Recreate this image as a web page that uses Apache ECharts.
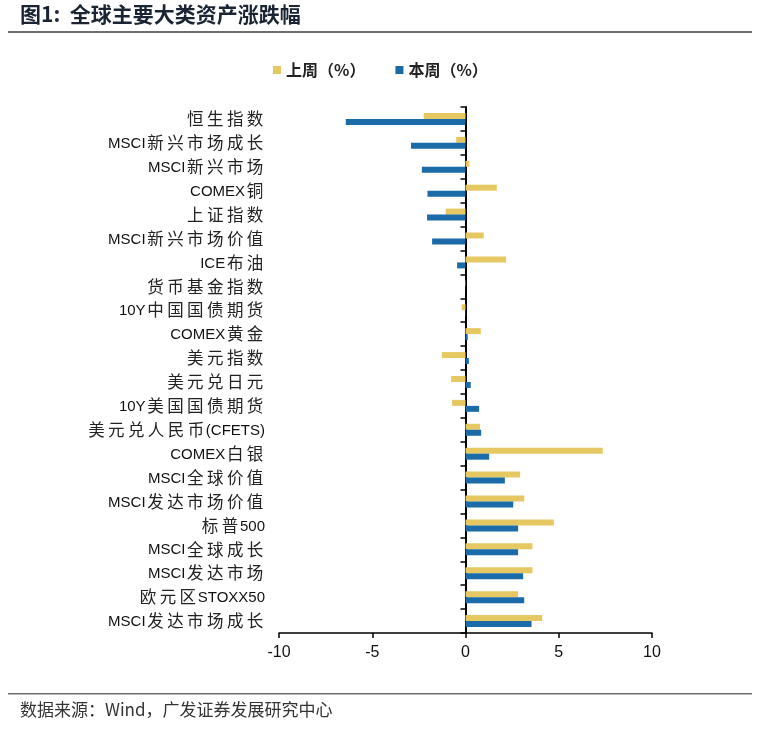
<!DOCTYPE html>
<html><head><meta charset="utf-8">
<script src="https://cdn.jsdelivr.net/npm/echarts@6/dist/echarts.min.js"></script>
<style>html,body{margin:0;padding:0;background:#fff;}#c{width:765px;height:730px;}</style>
</head><body><div id="c"></div>
<script>
const categories = ['恒生指数','MSCI新兴市场成长','MSCI新兴市场','COMEX铜','上证指数','MSCI新兴市场价值','ICE布油','货币基金指数','10Y中国国债期货','COMEX黄金','美元指数','美元兑日元','10Y美国国债期货','美元兑人民币(CFETS)','COMEX白银','MSCI全球价值','MSCI发达市场价值','标普500','MSCI全球成长','MSCI发达市场','欧元区STOXX50','MSCI发达市场成长'];
const lastWeek = [-2.24,-0.50,0.21,1.68,-1.06,0.98,2.17,0.02,-0.20,0.82,-1.27,-0.77,-0.72,0.78,7.36,2.93,3.15,4.74,3.59,3.59,2.82,4.11];
const thisWeek = [-6.42,-2.92,-2.34,-2.04,-2.06,-1.79,-0.45,0.01,0.02,0.12,0.18,0.28,0.73,0.84,1.27,2.11,2.56,2.82,2.82,3.09,3.15,3.54];
const xTicks = [-10,-5,0,5,10];

function richLabel(s){
  const parts = s.match(/[\u4e00-\u9fff]|[^\u4e00-\u9fff]+/g) || [];
  return parts.map(p => /[\u4e00-\u9fff]/.test(p) ? '{c|'+p+'}' : '{l|'+p+'}').join('');
}

const chart = echarts.init(document.getElementById('c'));
const font = '"Liberation Sans", Arial, "Noto Sans CJK SC", sans-serif';
chart.setOption({
  animation:false,
  textStyle:{fontFamily:font},
  graphic:[
    {type:'text',left:20,top:4,style:{text:'图1:  全球主要大类资产涨跌幅',font:'bold 21px "Noto Sans CJK SC", sans-serif',fill:'#1a2433'}},
    {type:'rect',shape:{x:8,y:31,width:744,height:2},style:{fill:'#6e6e6e'}},
    {type:'rect',shape:{x:8,y:693,width:744,height:1.5},style:{fill:'#6e6e6e'}},
    {type:'text',left:20,top:701,style:{text:'数据来源：Wind，广发证券发展研究中心',font:'17px "Noto Sans CJK SC", sans-serif',fill:'#333'}}
  ],
  legend:{top:57,left:268,itemWidth:8,itemHeight:8,itemGap:30,icon:'rect',
    textStyle:{fontSize:16,fontWeight:'bold',color:'#222',fontFamily:'"Noto Sans CJK SC", sans-serif'},
    data:['上周（%）','本周（%）']},
  grid:{left:279,right:113,top:107,bottom:97},
  xAxis:{type:'value',min:-10,max:10,interval:5,
    axisLine:{show:true,onZero:false,lineStyle:{color:'#000',width:1.5}},
    axisTick:{show:true,length:5,inside:false,lineStyle:{color:'#000',width:1.5}},
    splitLine:{show:false},
    axisLabel:{fontSize:16,color:'#111',margin:12,fontFamily:font,
      formatter:v=>xTicks.includes(v)?String(v):''}},
  yAxis:[
    {type:'category',data:categories,inverse:true,
     axisLine:{show:true,onZero:true,lineStyle:{color:'#000',width:2}},
     axisTick:{show:true,length:5,lineStyle:{color:'#000',width:1.5}},
     axisLabel:{show:false}},
    {type:'category',data:categories,inverse:true,position:'left',offset:0,
     axisLine:{show:false,onZero:false},axisTick:{show:false},
     axisLabel:{margin:14,color:'#111',formatter:richLabel,
       rich:{c:{fontSize:16.5,lineHeight:20,verticalAlign:'middle',color:'#222',padding:[0,1.7,0,1.7],fontFamily:'"Noto Sans CJK SC", sans-serif'},
             l:{fontSize:15,lineHeight:20,verticalAlign:'middle',color:'#111',padding:[2,0,0,0],fontFamily:'"Liberation Sans", Arial, sans-serif'}}}}
  ],
  series:[
    {name:'上周（%）',type:'bar',data:lastWeek,barWidth:6,barGap:'0%',itemStyle:{color:'#E6C862'}},
    {name:'本周（%）',type:'bar',data:thisWeek,barWidth:6,barGap:'0%',itemStyle:{color:'#1B6BA8'}}
  ]
});
</script></body></html>
